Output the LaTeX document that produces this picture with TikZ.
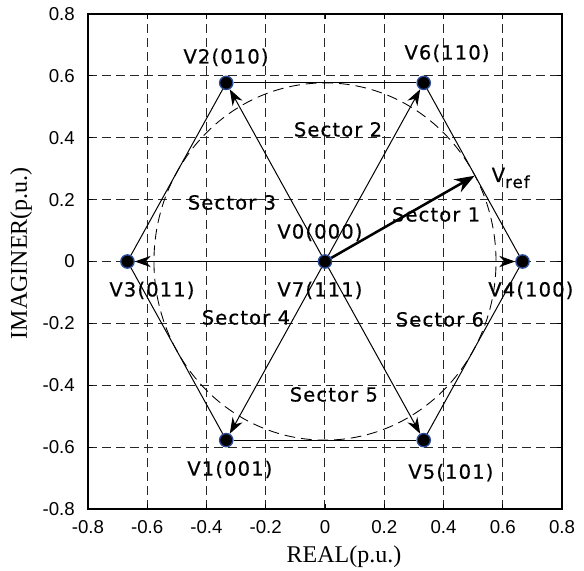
\documentclass[tikz,border=0pt]{standalone}
\usepackage{fontspec}
\setmainfont{Liberation Serif}
\newfontfamily\lblfont[LetterSpace=6,FakeBold=0.6]{DejaVu Sans}
\newfontfamily\tickfont{Liberation Sans}
\usetikzlibrary{arrows.meta}
\definecolor{dotblue}{HTML}{2B4C9B}
\begin{document}
\begin{tikzpicture}[x=222.19pt,y=232.05pt,
  gridline/.style={draw=black!85, line width=0.75pt, dash pattern=on 7pt off 3.5pt},
  circ/.style={draw=black, line width=0.65pt, dash pattern=on 8pt off 4.5pt},
  frame/.style={draw=black, line width=1.3pt},
  vdot/.style={circle, fill=black, draw=dotblue, line width=1pt, inner sep=0pt, minimum size=10pt},
  vec/.style={draw=black, line width=0.75pt, -{Stealth[length=12pt,width=8.5pt]}},
  hexedge/.style={draw=black, line width=0.75pt},
  refvec/.style={draw=black, line width=1.9pt, -{Stealth[length=15pt,width=11pt]}},
  lbl/.style={font=\lblfont\fontsize{14.6}{17}\selectfont, inner sep=0pt, anchor=base},
  ticklbl/.style={font=\tickfont\fontsize{14}{16}\selectfont, inner sep=0pt},
  axlabel/.style={font=\fontsize{18}{20}\selectfont, inner sep=0pt}]
\useasboundingbox (-1.097,-1.0003) rectangle (0.8743,0.8452);
% grid
\foreach \i in {-3,...,3} {
  \draw[gridline] ({\i*0.2},-0.8) -- ({\i*0.2},0.8);
  \draw[gridline] (-0.8,{\i*0.2}) -- (0.8,{\i*0.2});
}
% minor ticks
\foreach \i in {-3,...,3} {
  \draw[line width=0.6pt] ({\i*0.2},-0.8) -- ++(0,4pt);
  \draw[line width=0.6pt] ({\i*0.2},0.8) -- ++(0,-4pt);
  \draw[line width=0.6pt] (-0.8,{\i*0.2}) -- ++(4pt,0);
  \draw[line width=0.6pt] (0.8,{\i*0.2}) -- ++(-4pt,0);
}
\draw[frame] (-0.8,-0.8) rectangle (0.8,0.8);
% tick labels
\foreach \v/\t in {-0.8/-0.8,-0.6/-0.6,-0.4/-0.4,-0.2/-0.2,0/0,0.2/0.2,0.4/0.4,0.6/0.6,0.8/0.8} {
  \node[ticklbl, anchor=east] at (-0.8439,\v) {\t};
  \node[ticklbl] at (\v,-0.858) {\t};
}
\node[axlabel] (xl) at (0.064,-0.955) {REAL(p.u.)};
\node[axlabel, rotate=90] (yl) at (-1.026,0.027) {IMAGINER(p.u.)};
% dashed circle
\draw[circ] (0,0) ellipse [x radius=128.28pt, y radius=133.97pt];
% vertices
\node[vdot] (o) at (0,0) {};
\node[vdot] (v1) at (-0.3333,-0.5774) {};
\node[vdot] (v2) at (-0.3333,0.5774) {};
\node[vdot] (v3) at (-0.6667,0) {};
\node[vdot] (v4) at (0.6667,0) {};
\node[vdot] (v5) at (0.3333,-0.5774) {};
\node[vdot] (v6) at (0.3333,0.5774) {};
\coordinate (vref) at (0.505,0.277);
% hexagon
\draw[hexedge] (v2) -- (v6);
\draw[hexedge] (v6) -- (v4);
\draw[hexedge] (v4) -- (v5);
\draw[hexedge] (v5) -- (v1);
\draw[hexedge] (v1) -- (v3);
\draw[hexedge] (v3) -- (v2);
% vectors
\foreach \n in {v1,v2,v3,v4,v5,v6} { \draw[vec] (o) -- (\n); }
\draw[refvec] (o) -- (vref);
% labels
\node[lbl] (l2) at (-0.334,0.640) {V2(010)};
\node[lbl] (l6) at (0.412,0.653) {V6(110)};
\node[lbl] (s2) at (0.044,0.404) {Sector 2};
\node[lbl] (s3) at (-0.314,0.168) {Sector 3};
\node[lbl] (l0) at (-0.017,0.0743) {V0(000)};
\node[lbl] (s1) at (0.375,0.1293) {Sector 1};
\node[lbl, anchor=base west] (lr) at (0.562,0.257) {V\raisebox{-4.5pt}{\fontsize{12.5}{14}\selectfont ref}};
\node[lbl] (l3) at (-0.584,-0.113) {V3(011)};
\node[lbl] (l7) at (-0.017,-0.113) {V7(111)};
\node[lbl] (l4) at (0.695,-0.113) {V4(100)};
\node[lbl] (s4) at (-0.267,-0.2036) {Sector 4};
\node[lbl] (s6) at (0.388,-0.210) {Sector 6};
\node[lbl] (s5) at (0.030,-0.4525) {Sector 5};
\node[lbl] (l1) at (-0.321,-0.692) {V1(001)};
\node[lbl] (l5) at (0.425,-0.702) {V5(101)};
\end{tikzpicture}
\end{document}
